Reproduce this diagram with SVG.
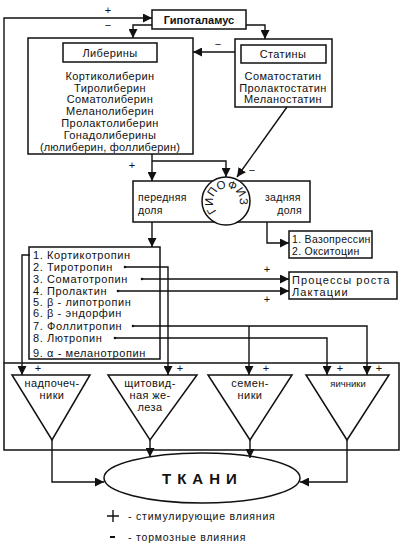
<svg xmlns="http://www.w3.org/2000/svg" width="408" height="544" viewBox="0 0 408 544">
<defs>
<style>
text{font-family:"Liberation Sans",Arial,sans-serif;fill:#111}
.t{font-size:11px;letter-spacing:0.4px}
.s{font-size:10.5px;letter-spacing:0.3px}
.tr{font-size:11px;letter-spacing:0.6px}
.c{text-anchor:middle}
.b{font-weight:bold}
.box{fill:#fff;stroke:#111;stroke-width:1.5}
.ln{fill:none;stroke:#111;stroke-width:1.4}
.arr{fill:none;stroke:#111;stroke-width:1.4;marker-end:url(#ah)}
.pm{font-size:11px}
</style>
<marker id="ah" viewBox="0 0 10 10" refX="10" refY="5" markerWidth="9" markerHeight="9" markerUnits="userSpaceOnUse" orient="auto">
<path d="M0,0 L10,5 L0,10 z" fill="#111"/>
</marker>
</defs>
<rect width="408" height="544" fill="#fff"/>

<g id="tissue-frame">
<rect x="4" y="363" width="395" height="87" fill="none" stroke="#111" stroke-width="1.5"/>
</g>

<g id="hypothalamus">
<rect class="box" x="152" y="10" width="94" height="19"/>
<text class="b c" style="font-size:11px" x="199" y="24">Гипоталамус</text>
</g>

<g id="liberins">
<rect class="box" x="28" y="38" width="165" height="116"/>
<rect class="box" x="63" y="43" width="94" height="19"/>
<text class="t c" x="110" y="57">Либерины</text>
<text class="t c" x="110" y="80">Кортиколиберин</text>
<text class="t c" x="110" y="92">Тиролиберин</text>
<text class="t c" x="110" y="103">Соматолиберин</text>
<text class="t c" x="110" y="115">Меланолиберин</text>
<text class="t c" x="110" y="127">Пролактолиберин</text>
<text class="t c" x="110" y="139">Гонадолиберины</text>
<text class="c" style="font-size:11px;letter-spacing:0.2px" x="110" y="151">(люлиберин, фоллиберин)</text>
</g>

<g id="statins">
<rect class="box" x="235" y="39" width="97" height="68"/>
<rect class="box" x="241" y="45" width="85" height="18"/>
<text class="t c" x="283" y="58">Статины</text>
<text class="t c" x="283" y="80">Соматостатин</text>
<text class="t c" x="283" y="92">Пролактостатин</text>
<text class="t c" x="283" y="103">Меланостатин</text>
</g>

<g id="hypophysis">
<rect class="box" x="133" y="181" width="177" height="41"/>
<circle class="box" cx="226" cy="201" r="24"/>
<path id="arc" d="M216.8,211.2 A13.5,13.5 0 1 1 237.5,209.5" fill="none"/>
<text style="font-size:11.5px"><textPath href="#arc" startOffset="0">ГИПОФИЗ</textPath></text>
<text class="s" x="138" y="201">передняя</text>
<text class="s" x="138" y="214">доля</text>
<text class="s" x="265" y="201">задняя</text>
<text class="s" x="302" y="214" text-anchor="end">доля</text>
</g>

<g id="posterior-hormones">
<rect class="box" x="289" y="231" width="83" height="27"/>
<text class="s" x="292" y="243">1. Вазопрессин</text>
<text class="s" x="292" y="255">2. Окситоцин</text>
</g>

<g id="processes">
<rect class="box" x="289" y="272" width="108" height="27"/>
<text style="font-size:11px;letter-spacing:1.1px" x="292" y="284">Процессы роста</text>
<text style="font-size:11px;letter-spacing:1.1px" x="292" y="296">Лактации</text>
</g>

<g id="tropins">
<rect class="box" x="29" y="247" width="131" height="112"/>
<text class="tr" x="33" y="259">1. Кортикотропин</text>
<text class="tr" x="33" y="271">2. Тиротропин</text>
<text class="tr" x="33" y="283">3. Соматотропин</text>
<text class="tr" x="33" y="295">4. Пролактин</text>
<text class="tr" x="33" y="306">5.   β - липотропин</text>
<text class="tr" x="33" y="317">6.   β - эндорфин</text>
<text class="tr" x="33" y="330">7. Фоллитропин</text>
<text class="tr" x="33" y="342">8. Лютропин</text>
<text class="tr" x="33" y="357">9. α   - меланотропин</text>
</g>

<g id="adrenals">
<polygon class="box" points="12,375 90,375 52,440"/>
<text class="t c" x="52" y="387">надпочеч-</text>
<text class="t c" x="52" y="399">ники</text>
</g>
<g id="thyroid">
<polygon class="box" points="108,375 197,375 150,440"/>
<text class="t c" x="150" y="387">щитовид-</text>
<text class="t c" x="150" y="399">ная же-</text>
<text class="t c" x="150" y="411">леза</text>
</g>
<g id="testes">
<polygon class="box" points="208,375 292,375 250,440"/>
<text class="t c" x="250" y="387">семен-</text>
<text class="t c" x="250" y="399">ники</text>
</g>
<g id="ovaries">
<polygon class="box" points="306,375 389,375 347,440"/>
<text class="c" style="font-size:9.5px" x="348" y="387">яичники</text>
</g>

<g id="tissues">
<ellipse class="box" cx="202" cy="478" rx="98" ry="25"/>
<text class="b" style="font-size:15px;letter-spacing:6px" x="162" y="484">ТКАНИ</text>
</g>

<g id="connectors">
<path class="arr" d="M4,363 V18 H152"/>
<path class="arr" d="M152,25 H133 V38"/>
<path class="arr" d="M246,25 H265 V39"/>
<path class="arr" d="M235,52 H193"/>
<path class="arr" d="M287,107 L237,177"/>
<path class="arr" d="M152,154 V181"/>
<path class="arr" d="M152,161 H226 V177"/>
<path class="arr" d="M152,222 V247"/>
<path class="arr" d="M267,222 V243 H289"/>
<path class="arr" d="M30,255 H22 V375"/>
<path class="arr" d="M125,267 H168 V375"/>
<path class="arr" d="M142,279 H289"/>
<path class="arr" d="M118,291 H289"/>
<path class="arr" d="M133,326 H367 V375"/>
<path class="arr" d="M249,326 V375"/>
<path class="arr" d="M115,338 H327 V375"/>
<path class="arr" d="M52,440 V482 H104"/>
<path class="arr" d="M150,440 V457"/>
<path class="arr" d="M250,440 V458"/>
<path class="arr" d="M347,440 V482 H300"/>
<g fill="#111">
<circle cx="125" cy="267" r="1.3"/>
<circle cx="142" cy="279" r="1.3"/>
<circle cx="118" cy="291" r="1.3"/>
<circle cx="133" cy="326" r="1.3"/>
<circle cx="115" cy="338" r="1.3"/>
</g>
</g>

<g id="signs">
<text class="pm c" x="108" y="14">+</text>
<text class="pm c" x="108" y="29">−</text>
<text class="pm c" x="218" y="48">−</text>
<text class="pm c" x="252" y="174">−</text>
<text class="pm c" x="132" y="169">+</text>
<text class="pm c" x="267" y="273">+</text>
<text class="pm c" x="267" y="303">+</text>
<text class="pm c" x="38" y="372">+</text>
<text class="pm c" x="180" y="372">+</text>
<text class="pm c" x="266" y="372">+</text>
<text class="pm c" x="340" y="372">+</text>
<text class="pm c" x="379" y="372">+</text>
</g>

<g id="legend">
<path class="ln" d="M107,516 H119 M113,510 V522"/>
<path class="ln" d="M110,537 H115" style="stroke-width:2"/>
<text style="font-size:10.5px;letter-spacing:0.8px" x="128" y="520">- стимулирующие влияния</text>
<text style="font-size:10.5px;letter-spacing:0.8px" x="128" y="541">- тормозные влияния</text>
</g>
</svg>
